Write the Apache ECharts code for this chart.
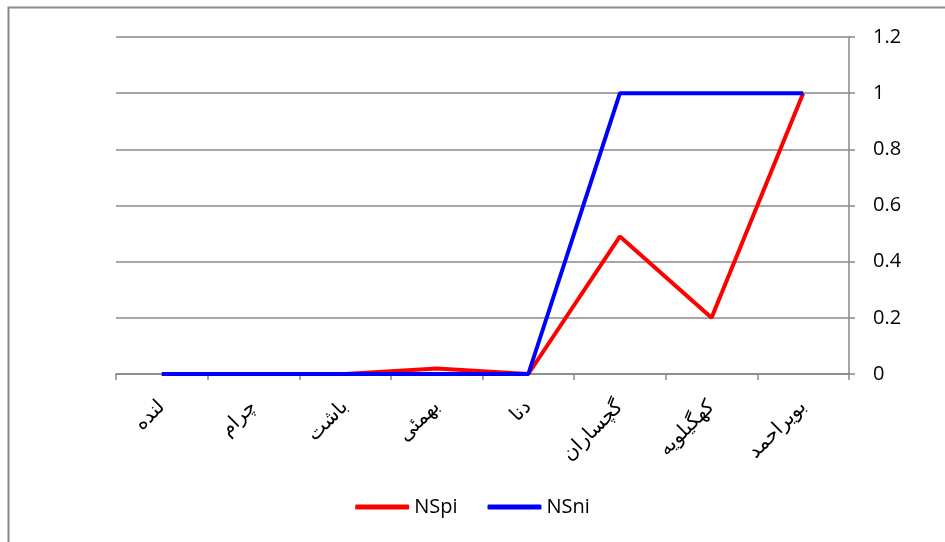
<!DOCTYPE html>
<html><head><meta charset="utf-8">
<script src="https://cdn.jsdelivr.net/npm/echarts@6/dist/echarts.min.js"></script>
<style>html,body{margin:0;padding:0;background:#fff}#c{width:945px;height:542px}</style>
</head><body><div id="c"></div>
<script>
const categories = ['لنده','چرام','باشت','بهمئی','دنا','گچساران','کهگیلویه','بویراحمد'];
const NSpi = [0, 0, 0, 0.02, 0, 0.49, 0.2, 1];
const NSni = [0, 0, 0, 0, 0, 1, 1, 1];
const yTicks = {min: 0, max: 1.2, interval: 0.2};

const chart = echarts.init(document.getElementById('c'));
chart.setOption({
  animation: false,
  backgroundColor: '#fff',
  graphic: [{type: 'rect', shape: {x: 8.5, y: 7.5, width: 960, height: 560}, style: {fill: 'none', stroke: '#888', lineWidth: 2}, silent: true}],
  grid: {left: 116, right: 96, top: 37, bottom: 168},
  legend: {
    bottom: 20, left: 'center', itemWidth: 54, itemHeight: 5, itemGap: 30, icon: 'roundRect',
    textStyle: {fontFamily: 'Open Sans, Liberation Sans, sans-serif', fontSize: 20, color: '#000'},
    data: ['NSpi', 'NSni']
  },
  xAxis: {
    type: 'category', data: categories, boundaryGap: true,
    axisLine: {lineStyle: {color: '#888', width: 1.5}},
    axisTick: {show: true, length: 6, lineStyle: {color: '#888', width: 1.5}},
    axisLabel: {rotate: 45, fontSize: 20, color: '#000', margin: 30, fontFamily: 'DejaVu Sans, sans-serif'},
    splitLine: {show: false}
  },
  yAxis: {
    type: 'value', position: 'right', min: yTicks.min, max: yTicks.max, interval: yTicks.interval,
    axisLine: {show: true, lineStyle: {color: '#888', width: 1.5}},
    axisTick: {show: true, length: 6, lineStyle: {color: '#888', width: 1.5}},
    axisLabel: {fontSize: 20, color: '#000', margin: 24, fontFamily: 'Open Sans, Liberation Sans, sans-serif'},
    splitLine: {show: true, lineStyle: {color: '#888', width: 1.5}}
  },
  series: [
    {name: 'NSpi', type: 'line', data: NSpi, symbol: 'none', lineStyle: {color: '#FF0000', width: 4}, itemStyle: {color: '#FF0000'}},
    {name: 'NSni', type: 'line', data: NSni, symbol: 'none', lineStyle: {color: '#0000FF', width: 4}, itemStyle: {color: '#0000FF'}}
  ]
});
</script></body></html>
